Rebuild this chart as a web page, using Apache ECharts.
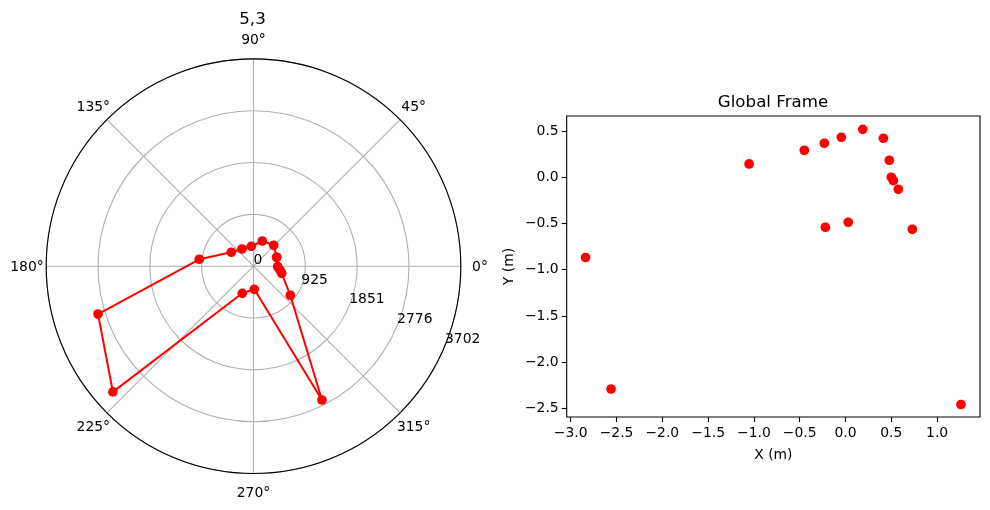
<!DOCTYPE html>
<html>
<head>
<meta charset="utf-8">
<style>html,body{margin:0;padding:0;background:#fff}#c{width:990px;height:510px}</style>
<script src="https://cdn.jsdelivr.net/npm/echarts@6/dist/echarts.min.js"></script>
</head>
<body>
<div id="c"></div>
<script>
// Polar panel: range (mm) and bearing (deg) of each scan point, loop closed on the first
const polarRange = [444, 519, 477, 357, 370, 468, 976, 2905, 3368, 524, 413, 2684, 838, 519, 478, 432, 444];
const polarAngle = [21.0, 46.0, 70.7, 96.3, 123.8, 147.9, 172.7, 197.1, 221.8, 247.5, 272.0, 297.1, 321.7, 345.9, 351.8, 358.8, 21.0];
const radiusTicks = [0, 925, 1851, 2776, 3702];
const radiusLabelAngle = 337.5;
const angleTicks = [0, 45, 90, 135, 180, 225, 270, 315];
const angleLabelRadius = 4045;
const polarTitle = '5,3';

// Global frame panel
const globalX = [-0.45, -0.231, -0.046, 0.188, 0.413, 0.478, 0.50, 0.522, 0.576, -0.22, 0.03, 0.729, -1.053, -2.838, -2.56, 1.26];
const globalY = [0.292, 0.368, 0.433, 0.519, 0.422, 0.184, 0.0, -0.037, -0.13, -0.541, -0.487, -0.563, 0.144, -0.868, -2.291, -2.459];
const xTicks = [-3.0, -2.5, -2.0, -1.5, -1.0, -0.5, 0.0, 0.5, 1.0];
const yTicks = [-2.5, -2.0, -1.5, -1.0, -0.5, 0.0, 0.5];
const globalTitle = 'Global Frame';
const xName = 'X (m)';
const yName = 'Y (m)';

const FONT = 'DejaVu Sans';
const fmt = v => (v < 0 ? '\u2212' : '') + Math.abs(v).toFixed(1);
const chart = echarts.init(document.getElementById('c'), null, {renderer: 'canvas'});
chart.setOption({
  animation: false,
  backgroundColor: '#fff',
  textStyle: {fontFamily: FONT},
  title: [
    {text: polarTitle, left: 252.5, top: 11, padding: 0, textAlign: 'center',
     textStyle: {fontFamily: FONT, fontSize: 16.67, fontWeight: 'normal', color: '#000'}},
    {text: globalTitle, left: 773, top: 94, padding: 0, textAlign: 'center',
     textStyle: {fontFamily: FONT, fontSize: 16.67, fontWeight: 'normal', color: '#000'}}
  ],
  polar: {center: [253.5, 266.2], radius: 207.3},
  angleAxis: {
    type: 'value', min: 0, max: 360, interval: 45, startAngle: 0, clockwise: false,
    axisLine: {show: true, lineStyle: {color: '#000', width: 1.1}},
    axisTick: {show: false},
    axisLabel: {show: false},
    splitLine: {show: true, lineStyle: {color: '#b0b0b0', width: 1.1}}
  },
  radiusAxis: {
    type: 'value', min: 0, max: radiusTicks[radiusTicks.length - 1],
    axisLine: {show: false}, axisTick: {show: false}, axisLabel: {show: false},
    splitLine: {show: true, lineStyle: {color: '#b0b0b0', width: 1.1}},
    splitNumber: 4, interval: 925.5
  },
  grid: {show: true, left: 566.7, top: 116, right: 990 - 980, bottom: 510 - 417,
         borderColor: '#000', borderWidth: 1.1, backgroundColor: 'transparent'},
  xAxis: {
    type: 'value', min: -3.044, max: 1.468, name: xName, nameLocation: 'middle', nameGap: 31,
    nameTextStyle: {color: '#000', fontFamily: FONT, fontSize: 13.9},
    axisLine: {show: false, onZero: false}, splitLine: {show: false},
    axisTick: {show: true, length: 5, customValues: xTicks, lineStyle: {color: '#000', width: 1.1}},
    axisLabel: {show: true, margin: 9, customValues: xTicks, formatter: fmt, color: '#000', fontFamily: FONT, fontSize: 13.9}
  },
  yAxis: {
    type: 'value', min: -2.594, max: 0.663, name: yName, nameLocation: 'middle', nameGap: 50,
    nameTextStyle: {color: '#000', fontFamily: FONT, fontSize: 13.9},
    axisLine: {show: false, onZero: false}, splitLine: {show: false},
    axisTick: {show: true, length: 5, customValues: yTicks, lineStyle: {color: '#000', width: 1.1}},
    axisLabel: {show: true, margin: 8, padding: [3, 0, 0, 0], customValues: yTicks, formatter: fmt, color: '#000', fontFamily: FONT, fontSize: 13.9}
  },
  series: [
    {type: 'line', coordinateSystem: 'polar', clip: false,
     data: polarRange.map((r, i) => [r, polarAngle[i]]),
     symbol: 'circle', symbolSize: 9.7, showSymbol: true,
     lineStyle: {color: '#ff0000', width: 2}, itemStyle: {color: '#ff0000'}},
    {type: 'scatter', coordinateSystem: 'polar', silent: true, symbolSize: 0, clip: false,
     data: radiusTicks.map(r => [r, radiusLabelAngle]),
     itemStyle: {opacity: 1},
     label: {show: true, position: [0, 1], align: 'left', verticalAlign: 'bottom',
             formatter: p => String(p.value[0]), color: '#000', fontFamily: FONT, fontSize: 13.9}},
    {type: 'scatter', coordinateSystem: 'polar', silent: true, symbolSize: 0, clip: false,
     data: angleTicks.map(a => [angleLabelRadius, a]),
     itemStyle: {opacity: 1},
     label: {show: true, position: [0, 1], align: 'center', verticalAlign: 'middle',
             formatter: p => p.value[1] + '\u00b0', color: '#000', fontFamily: FONT, fontSize: 13.9}},
    {type: 'scatter', xAxisIndex: 0, yAxisIndex: 0,
     data: globalX.map((x, i) => [x, globalY[i]]),
     symbol: 'circle', symbolSize: 9.7, itemStyle: {color: '#ff0000', opacity: 1}}
  ]
});
</script>
</body>
</html>
